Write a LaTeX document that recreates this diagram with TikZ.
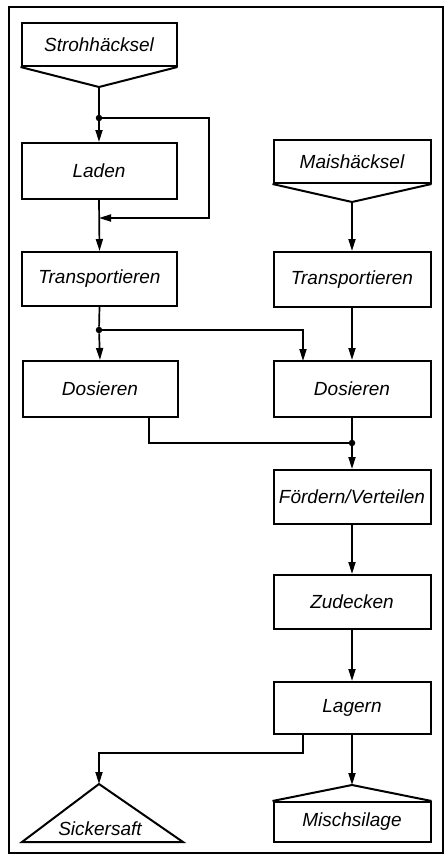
\documentclass[tikz,border=0pt]{standalone}
\usepackage{fontspec}
\setmainfont{Liberation Sans}
\usetikzlibrary{arrows.meta}
\begin{document}
\begin{tikzpicture}[x=1pt,y=-1pt,
 box/.style={draw,line width=2pt,minimum width=155pt,inner sep=0pt,font=\itshape\fontsize{19}{21}\selectfont},
 rbox/.style={box,minimum width=157pt},
 lbl/.style={inner sep=0pt,font=\itshape\fontsize{19}{21}\selectfont},
 ln/.style={line width=1.7pt},
 shp/.style={line width=2pt,line join=miter},
 arr/.style={ln,-{Triangle[length=12pt,width=7pt]}},
 jdot/.style={circle,fill,inner sep=0pt,minimum size=6.5pt}]
\useasboundingbox (0,0) rectangle (447,867);
\draw[line width=1.5pt] (9,7) rectangle (443,853);
% left column
\node[box,minimum height=43pt] (stroh) at (99,44.5) {Strohhäcksel};
\coordinate (strohtip) at (99,87);
\draw[shp] (stroh.south west) -- (strohtip) -- (stroh.south east);
\node[box,minimum height=56pt] (laden) at (99,171) {Laden};
\node[box,minimum height=54pt] (transL) at (99.5,279) {Transportieren};
\node[box,minimum height=56pt] (dosL) at (100,389) {Dosieren};
% right column
\node[rbox,minimum height=43pt] (mais) at (352,161.5) {Maishäcksel};
\coordinate (maistip) at (352,202);
\draw[shp] (mais.south west) -- (maistip) -- (mais.south east);
\node[rbox,minimum height=55pt] (transR) at (352,279.5) {Transportieren};
\node[rbox,minimum height=56pt] (dosR) at (352,389) {Dosieren};
\node[rbox,minimum height=54pt] (foerd) at (352,497) {Fördern/Verteilen};
\node[rbox,minimum height=54pt] (zudeck) at (352,602) {Zudecken};
\node[rbox,minimum height=52pt] (lagern) at (352,708) {Lagern};
\node[rbox,minimum height=40pt] (misch) at (352,822) {Mischsilage};
\coordinate (mischtip) at (352,785);
\draw[shp] (misch.north west) -- (mischtip) -- (misch.north east);
% Sickersaft triangle
\coordinate (sicktip) at (99,784);
\coordinate (sickL) at (22,842);
\coordinate (sickR) at (183,842);
\draw[shp] (sicktip) -- (sickL) -- (sickR) -- cycle;
\node[lbl] (sick) at (100,829) {Sickersaft};
% junctions
\node[jdot] (d1) at (99,118) {};
\node[jdot] (d2) at (99,330) {};
\node[jdot] (d3) at (352,443) {};
\coordinate (j2) at (209,218);
\coordinate (j3) at (99,218);
\coordinate (e2) at (303,361);
\coordinate (f1) at (149,417);
\coordinate (g1) at (303,734);
\coordinate (g2) at (303,753);
\coordinate (g3) at (99,753);
% connectors
\draw[ln] (strohtip) -- (d1);
\draw[arr] (d1) -- (laden.north);
\draw[arr] (d1.center) -| (j2) -- (j3);
\draw[arr] (laden.south) -- (transL.north);
\draw[ln] (transL.south) -- (d2);
\draw[arr] (d2) -- (dosL.north);
\draw[arr] (d2.center) -| (e2);
\draw[arr] (maistip) -- (transR.north);
\draw[arr] (transR.south) -- (dosR.north);
\draw[ln] (f1) |- (d3.center);
\draw[ln] (dosR.south) -- (d3);
\draw[arr] (d3) -- (foerd.north);
\draw[arr] (foerd.south) -- (zudeck.north);
\draw[arr] (zudeck.south) -- (lagern.north);
\draw[arr] (g1) -- (g2) -- (g3) -- (sicktip);
\draw[arr] (lagern.south) -- (mischtip);
\end{tikzpicture}
\end{document}
